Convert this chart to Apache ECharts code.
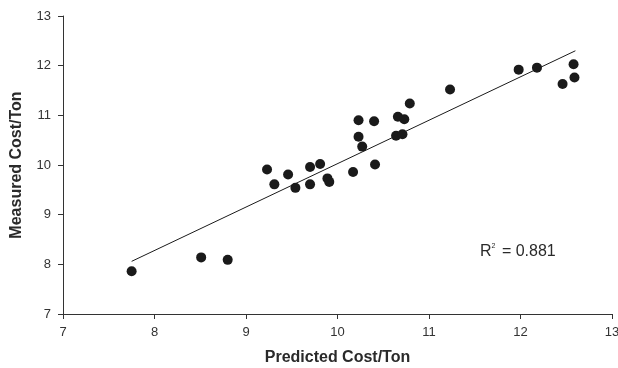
<!DOCTYPE html>
<html><head><meta charset="utf-8">
<script src="https://cdn.jsdelivr.net/npm/echarts@6/dist/echarts.min.js"></script>
<style>html,body{margin:0;padding:0;background:#fff}#c{width:618px;height:368px}</style>
</head><body><div id="c"></div>
<script>
const predicted = [7.75, 8.51, 8.80, 9.23, 9.31, 9.46, 9.54, 9.70, 9.70, 9.81, 9.89, 9.91, 10.17, 10.41, 10.23, 10.40, 10.23, 10.27, 10.66, 10.73, 10.64, 10.71, 10.79, 11.23, 11.98, 12.18, 12.58, 12.59, 12.46];
const measured  = [7.86, 8.14, 8.09, 9.91, 9.61, 9.81, 9.54, 9.96, 9.61, 10.02, 9.73, 9.66, 9.86, 10.01, 10.90, 10.88, 10.57, 10.37, 10.97, 10.92, 10.59, 10.62, 11.24, 11.52, 11.92, 11.96, 12.03, 11.76, 11.63];
const trendX = [7.75, 12.60];
const trendY = [8.06, 12.30];
const xTicks = [7, 8, 9, 10, 11, 12, 13];
const yTicks = [7, 8, 9, 10, 11, 12, 13];
const r2Text = '0.881';

const chart = echarts.init(document.getElementById('c'));
const axisCommon = {
  axisLine: {show: true, lineStyle: {color: '#333', width: 1}},
  axisTick: {show: true, inside: false, length: 5, lineStyle: {color: '#333'}},
  splitLine: {show: false},
  axisLabel: {color: '#333', fontSize: 13, fontFamily: 'Liberation Sans, Arial', margin: 12},
  nameTextStyle: {color: '#2a2a2a', fontSize: 16, fontWeight: 'bold', fontFamily: 'Liberation Sans, Arial'}
};
chart.setOption({
  animation: false,
  grid: {left: 63, right: 6, top: 16, bottom: 54, containLabel: false, outerBoundsMode: 'none'},
  xAxis: Object.assign({}, axisCommon, {
    type: 'value', min: xTicks[0], max: xTicks[xTicks.length-1], interval: 1,
    name: 'Predicted Cost/Ton', nameLocation: 'middle', nameGap: 36
  }),
  yAxis: Object.assign({}, axisCommon, {
    type: 'value', min: yTicks[0], max: yTicks[yTicks.length-1], interval: 1,
    name: 'Measured Cost/Ton', nameLocation: 'middle', nameGap: 38
  }),
  series: [
    {type: 'scatter', data: predicted.map((x, i) => [x, measured[i]]), symbol: 'circle', symbolSize: 10,
     itemStyle: {color: '#1a1a1a', opacity: 1}, z: 3},
    {type: 'line', data: trendX.map((x, i) => [x, trendY[i]]), symbol: 'none',
     lineStyle: {color: '#1a1a1a', width: 1}, z: 2}
  ],
  graphic: [{
    type: 'text', left: 480, top: 243,
    style: {
      text: '{b|R}{s|2}{b| = ' + r2Text + '}',
      rich: {
        b: {fontSize: 16, fill: '#2a2a2a', fontFamily: 'Liberation Sans, Arial', verticalAlign: 'bottom'},
        s: {fontSize: 7, fill: '#2a2a2a', fontFamily: 'Liberation Sans, Arial', padding: [0, 2, 10, 0], verticalAlign: 'bottom'}
      }
    }
  }]
});
</script></body></html>
